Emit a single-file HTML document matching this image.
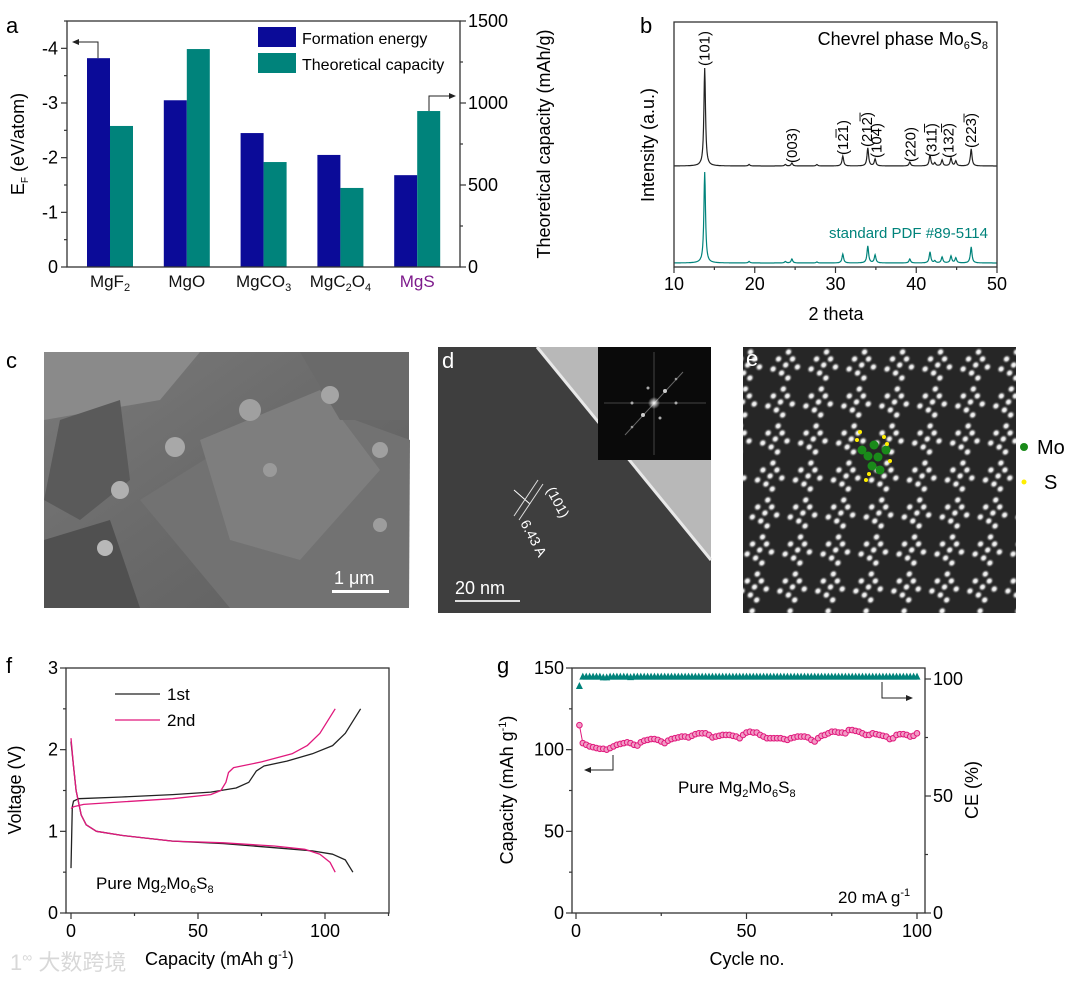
<!DOCTYPE html>
<html><head><meta charset="utf-8">
<style>
html,body{margin:0;padding:0;background:#fff;}
svg{display:block;font-family:"Liberation Sans","Noto Sans CJK SC",sans-serif;}
</style></head>
<body>
<svg id="fig" width="1080" height="981" viewBox="0 0 1080 981" xmlns="http://www.w3.org/2000/svg">
<defs>
  <radialGradient id="blob" cx="50%" cy="50%" r="50%">
    <stop offset="0%" stop-color="#ffffff"/>
    <stop offset="40%" stop-color="#e0e0e0"/>
    <stop offset="100%" stop-color="#444" stop-opacity="0"/>
  </radialGradient>
  <radialGradient id="fftc" cx="50%" cy="50%" r="50%">
    <stop offset="0%" stop-color="#fff"/>
    <stop offset="100%" stop-color="#fff" stop-opacity="0"/>
  </radialGradient>
  <linearGradient id="semg" x1="0" y1="0" x2="1" y2="1">
    <stop offset="0%" stop-color="#7a7a7a"/>
    <stop offset="50%" stop-color="#6a6a6a"/>
    <stop offset="100%" stop-color="#5e5e5e"/>
  </linearGradient>
  <pattern id="lat" x="743" y="347" width="38" height="37" patternUnits="userSpaceOnUse" patternTransform="skewX(-8)">
    <rect width="38" height="37" fill="#262626"/>
    <circle cx="19" cy="5" r="4.5" fill="url(#blob)"/>
    <circle cx="10" cy="12" r="4.5" fill="url(#blob)"/>
    <circle cx="24" cy="12" r="4.5" fill="url(#blob)"/>
    <circle cx="18" cy="18" r="4.5" fill="url(#blob)"/>
    <circle cx="30" cy="20" r="4.5" fill="url(#blob)"/>
    <circle cx="6" cy="22" r="4.5" fill="url(#blob)"/>
    <circle cx="15" cy="26" r="4.5" fill="url(#blob)"/>
    <circle cx="22" cy="31" r="4.5" fill="url(#blob)"/>
  </pattern>
</defs>

<text x="6" y="33" font-size="22">a</text>
<text x="640" y="33" font-size="22">b</text>
<text x="6" y="368" font-size="22">c</text>
<text x="6" y="673" font-size="22">f</text>
<text x="497" y="673" font-size="22">g</text>

<g id="pa"></g>
<g id="pb"></g>

<g>
  <rect x="44" y="352" width="365" height="256" fill="url(#semg)"/>
  <polygon points="140,500 300,400 410,440 409,608 230,608" fill="#727272"/>
  <polygon points="200,440 320,390 380,470 300,560 230,540" fill="#7e7e7e"/>
  <polygon points="44,352 200,352 160,400 44,420" fill="#8a8a8a"/>
  <polygon points="60,420 120,400 130,480 80,520 44,500" fill="#5a5a5a"/>
  <polygon points="300,352 409,352 409,420 340,420" fill="#6a6a6a"/>
  <polygon points="44,540 110,520 140,608 44,608" fill="#505050"/>
  <circle cx="175" cy="447" r="10" fill="#a8a8a8"/>
  <circle cx="120" cy="490" r="9" fill="#b0b0b0"/>
  <circle cx="250" cy="410" r="11" fill="#a0a0a0"/>
  <circle cx="330" cy="395" r="9" fill="#a5a5a5"/>
  <circle cx="105" cy="548" r="8" fill="#b8b8b8"/>
  <circle cx="380" cy="450" r="8" fill="#a0a0a0"/>
  <circle cx="270" cy="470" r="7" fill="#9a9a9a"/>
  <circle cx="380" cy="525" r="7" fill="#9d9d9d"/>
  <rect x="332" y="590" width="57" height="3" fill="#fff"/>
  <text x="334" y="584" font-size="18" fill="#fff">1 μm</text>
</g>

<g>
  <rect x="438" y="347" width="273" height="266" fill="#3e3e3e"/>
  <polygon points="537,347 711,347 711,560" fill="#b8b8b8"/>
  <line x1="537" y1="347" x2="711" y2="560" stroke="#e8e8e8" stroke-width="3"/>
  <rect x="598" y="347" width="113" height="113" fill="#0a0a0a"/>
  <line x1="604" y1="403" x2="706" y2="403" stroke="#444" stroke-width="1"/>
  <line x1="654" y1="352" x2="654" y2="455" stroke="#444" stroke-width="1"/>
  <line x1="625" y1="435" x2="683" y2="372" stroke="#666" stroke-width="1"/>
  <circle cx="654" cy="403" r="6" fill="url(#fftc)"/>
  <circle cx="643" cy="415" r="2" fill="#ccc"/><circle cx="665" cy="391" r="2" fill="#ccc"/>
  <circle cx="632" cy="403" r="1.5" fill="#aaa"/><circle cx="676" cy="403" r="1.5" fill="#aaa"/>
  <circle cx="660" cy="418" r="1.5" fill="#aaa"/><circle cx="648" cy="388" r="1.5" fill="#aaa"/>
  <circle cx="632" cy="427" r="1.3" fill="#999"/><circle cx="676" cy="379" r="1.3" fill="#999"/>
  <line x1="514" y1="490" x2="530" y2="504" stroke="#fff" stroke-width="1"/>
  <line x1="519" y1="520" x2="543" y2="484" stroke="#ddd" stroke-width="1"/>
  <line x1="514" y1="516" x2="538" y2="480" stroke="#ddd" stroke-width="1"/>
  <text font-size="14" fill="#fff" transform="translate(546,490) rotate(62)">(101)</text>
  <text font-size="14" fill="#fff" transform="translate(520,523) rotate(62)">6.43 A</text>
  <rect x="455" y="600" width="65" height="2" fill="#ddd"/>
  <text x="455" y="594" font-size="18" fill="#fff">20 nm</text>
  <text x="442" y="368" font-size="22" fill="#fff">d</text>
</g>

<g>
  <rect x="743" y="347" width="273" height="266" fill="url(#lat)"/>
  <g>
    <circle cx="874" cy="445" r="4.5" fill="#1a8a1a"/><circle cx="868" cy="456" r="4.5" fill="#1a8a1a"/>
    <circle cx="878" cy="457" r="4.5" fill="#1a8a1a"/><circle cx="886" cy="450" r="4.5" fill="#1a8a1a"/>
    <circle cx="872" cy="466" r="4.5" fill="#1a8a1a"/><circle cx="880" cy="470" r="4.5" fill="#1a8a1a"/>
    <circle cx="862" cy="450" r="4.5" fill="#1a8a1a"/>
    <circle cx="857" cy="440" r="2" fill="#ffee00"/><circle cx="860" cy="432" r="2" fill="#ffee00"/>
    <circle cx="884" cy="437" r="2" fill="#ffee00"/><circle cx="887" cy="444" r="2" fill="#ffee00"/>
    <circle cx="890" cy="461" r="2" fill="#ffee00"/><circle cx="869" cy="474" r="2" fill="#ffee00"/>
    <circle cx="866" cy="480" r="2" fill="#ffee00"/>
  </g>
  <text x="746" y="366" font-size="22" fill="#fff">e</text>
  <circle cx="1024" cy="447" r="4" fill="#1a8a1a"/>
  <text x="1037" y="454" font-size="20">Mo</text>
  <circle cx="1024" cy="482" r="2.5" fill="#ffee00"/>
  <text x="1044" y="489" font-size="20">S</text>
</g>

<g id="pf"></g>
<g id="pg"></g>

<text x="10" y="970" font-size="22" fill="#d8d8d8" font-family="Liberation Sans, Noto Sans CJK SC, sans-serif">1<tspan font-size="14" dy="-8">∞</tspan><tspan dy="8"> 大数跨境</tspan></text>

<script>
const aCategories = ["MgF", "MgO", "MgCO", "MgC", "MgS"];
const aFormationEnergy = [-3.82, -3.05, -2.45, -2.05, -1.68];
const aCapacity = [860, 1329, 640, 482, 951];
const aLeftTicks = [0, -1, -2, -3, -4];
const aRightTicks = [0, 500, 1000, 1500];
const bPeakPos = [13.8, 19.3, 23.8, 24.6, 27.7, 30.9, 34.0, 34.9, 39.2, 41.7, 42.3, 43.2, 44.3, 44.9, 46.8];
const bPeakHeights = [98, 1.5, 1.5, 3, 1.5, 10, 18, 7, 4, 11, 3, 6, 8, 5, 17];
const bRefHeights = [91, 1.5, 1.5, 4, 1, 9, 17, 8, 4, 11, 2, 6, 7, 5, 16];
const bTicks = [10, 20, 30, 40, 50];
const bPlaneLabels = ["(101)", "(003)", "(12\u03051)", "(212\u0305)", "(104)", "(220)", "(311\u0305)", "(132\u0305)", "(223\u0305)"];
const bPlanePos = [13.8, 24.6, 30.9, 33.9, 35.1, 39.3, 41.9, 44.0, 46.8];
const bPlaneBottom = [66, 163, 155, 147, 158, 162, 157, 158, 148];
const f1ChargeCap = [0, 0.5, 1, 3, 20, 40, 55, 65, 70, 73, 76, 85, 95, 103, 108, 114];
const f1ChargeV = [0.55, 1.3, 1.37, 1.4, 1.42, 1.45, 1.48, 1.53, 1.6, 1.74, 1.8, 1.86, 1.95, 2.05, 2.2, 2.5];
const f1DischCap = [0, 1, 2, 4, 6, 10, 20, 40, 60, 80, 95, 103, 108, 111];
const f1DischV = [2.1, 1.8, 1.5, 1.2, 1.08, 1.0, 0.95, 0.88, 0.85, 0.8, 0.76, 0.72, 0.65, 0.5];
const f2ChargeCap = [0, 1, 5, 20, 40, 55, 59, 61, 62, 64, 75, 87, 93, 98, 104];
const f2ChargeV = [1.28, 1.3, 1.33, 1.36, 1.4, 1.45, 1.5, 1.6, 1.72, 1.78, 1.85, 1.95, 2.05, 2.2, 2.5];
const f2DischCap = [0, 1, 2, 4, 6, 10, 20, 40, 60, 80, 92, 98, 102, 104];
const f2DischV = [2.14, 1.8, 1.5, 1.2, 1.08, 1.0, 0.95, 0.88, 0.86, 0.82, 0.78, 0.72, 0.62, 0.5];
const fXTicks = [0, 50, 100];
const fYTicks = [0, 1, 2, 3];
const gCapacity = [115,104,103,102,101.5,101,100.5,100.5,100,101,102,103,103.5,104,104.5,104,103,102.5,104.5,105.5,106,106.5,106.5,106,105,104,105.5,106.5,107,107.5,108,108,107.5,108.5,109.5,110,110,110,109,107.5,108,108.5,109,109,109,108.5,108,107,109,110.5,111,110.5,110.5,109,108,107,107,107,107,107,106.5,106,107,107.5,108,108,108,107.5,106,105,107,108.5,109,110,111,111,110.5,110.5,110,112,112,111.5,111,110,109,109,110,109.5,109,108.5,108,106.5,107,109,109.5,109.5,109,108,108.5,110];
const gCE = [97,101,101,101,101,101,101,100.7,100.7,101,101,101,101,101,101,100.8,101,101,101,101,101,101,101,101,101,101,101,101,101,101,101,101,101,101,101,101,101,101,101,101,101,101,101,101,101,101,101,101,101,101,101,101,101,101,101,101,101,101,101,101,101,101,101,101,101,101,101,101,101,101,101,101,101,101,101,101,101,101,101,101,101,101,101,101,101,101,101,101,101,101,101,101,101,101,101,101,101,101,101,101];
const gXTicks = [0, 50, 100];
const gLeftTicks = [0, 50, 100, 150];
const gRightTicks = [0, 50, 100];

const NS = "http://www.w3.org/2000/svg";
function mk(parent, tag, attrs, txt) {
  const e = document.createElementNS(NS, tag);
  for (const k in attrs) e.setAttribute(k, attrs[k]);
  if (txt !== undefined) e.textContent = txt;
  parent.appendChild(e);
  return e;
}
function box(g, x0, y0, x1, y1, name) {
  const r = mk(g, "rect", {x: x0, y: y0, width: x1 - x0, height: y1 - y0, fill: "none", stroke: "#333", "stroke-width": 1.3});
  
  
}
function tickLine(g, x1, y1, x2, y2) {
  mk(g, "line", {x1: x1, y1: y1, x2: x2, y2: y2, stroke: "#333", "stroke-width": 1.2});
}
function pathFrom(xs, ys, fx, fy) {
  let d = "";
  for (let i = 0; i < xs.length; i++) d += (i ? "L" : "M") + fx(xs[i]).toFixed(1) + "," + fy(ys[i]).toFixed(1);
  return d;
}

(function () {
  const g = document.getElementById("pa");
  const X0 = 67, X1 = 460, YT = 21, YB = 267;
  const yE = v => YB + v * (YB - YT) / 4.5;
  const yC = c => YB - c / 1500 * (YB - YT);
  const cx = i => 110 + i * 76.8;
  const bw = 23;
  aFormationEnergy.forEach((v, i) => {
    const r = mk(g, "rect", {x: cx(i) - bw, y: yE(v), width: bw, height: YB - yE(v), fill: "#0b0b98"});
    
    
  });
  aCapacity.forEach((c, i) => {
    const r = mk(g, "rect", {x: cx(i), y: yC(c), width: bw, height: YB - yC(c), fill: "#00837b"});
    
    
  });
  box(g, X0, YT, X1, YB, 'plot-area-a');
  aLeftTicks.forEach(t => {
    tickLine(g, X0 - 6, yE(t), X0, yE(t));
    const tx = mk(g, "text", {x: X0 - 9, y: yE(t) + 6, "font-size": 18, "text-anchor": "end"}, String(t));
    
    
  });
  for (let v = -0.5; v >= -4.5; v -= 1) tickLine(g, X0 - 3, yE(v), X0, yE(v));
  aRightTicks.forEach(t => {
    tickLine(g, X1, yC(t), X1 + 6, yC(t));
    const tx = mk(g, "text", {x: X1 + 8, y: yC(t) + 6, "font-size": 18}, String(t));
    
    
  });
  for (let v = 250; v < 1500; v += 500) tickLine(g, X1, yC(v), X1 + 3, yC(v));
  const subs = ["2", "", "3", "2", ""];
  aCategories.forEach((c, i) => {
    const t = mk(g, "text", {x: cx(i), y: 287, "font-size": 17, "text-anchor": "middle", fill: i === 4 ? "#7d1a8c" : "#111"});
    
    
    if (i === 3) {
      mk(t, "tspan", {}, "MgC");
      mk(t, "tspan", {"font-size": 11, dy: 4}, "2");
      mk(t, "tspan", {dy: -4}, "O");
      mk(t, "tspan", {"font-size": 11, dy: 4}, "4");
    } else {
      mk(t, "tspan", {}, c);
      if (subs[i]) mk(t, "tspan", {"font-size": 11, dy: 4}, subs[i]);
    }
  });
  const l1 = mk(g, "rect", {x: 258, y: 27, width: 38, height: 20, fill: "#0b0b98"});
  
  
  const t1 = mk(g, "text", {x: 302, y: 44, "font-size": 16}, "Formation energy");
  
  
  const l2 = mk(g, "rect", {x: 258, y: 53, width: 38, height: 20, fill: "#00837b"});
  
  
  const t2 = mk(g, "text", {x: 302, y: 70, "font-size": 16}, "Theoretical capacity");
  
  
  const ar1 = mk(g, "path", {d: "M98," + yE(aFormationEnergy[0]) + " L98,42 L74,42", fill: "none", stroke: "#222", "stroke-width": 1});
  
  
  mk(g, "path", {d: "M72,42 L79,39 L79,45 Z", fill: "#222"});
  const ar2 = mk(g, "path", {d: "M429," + yC(aCapacity[4]) + " L429,96 L452,96", fill: "none", stroke: "#222", "stroke-width": 1});
  
  
  mk(g, "path", {d: "M456,96 L449,93 L449,99 Z", fill: "#222"});
  const yl = mk(g, "text", {transform: "translate(24,144) rotate(-90)", "font-size": 18, "text-anchor": "middle"});
  
  
  mk(yl, "tspan", {}, "E");
  mk(yl, "tspan", {"font-size": 10, dy: 4}, "F");
  mk(yl, "tspan", {dy: -4}, " (eV/atom)");
  const yr = mk(g, "text", {transform: "translate(550,144) rotate(-90)", "font-size": 18, "text-anchor": "middle"}, "Theoretical capacity  (mAh/g)");
  
  
})();

(function () {
  const g = document.getElementById("pb");
  const X0 = 674, X1 = 997, YT = 22, YB = 267;
  const xB = t => X0 + (t - 10) * (X1 - X0) / 40;
  const prof = (h, base) => {
    let d = "";
    for (let t = 10; t <= 50.001; t += 0.05) {
      let s = 0;
      bPeakPos.forEach((p, i) => { const w = 0.12; s += h[i] / (1 + ((t - p) / w) ** 2); });
      d += (d ? "L" : "M") + xB(t).toFixed(1) + "," + (base - s).toFixed(1);
    }
    return d;
  };
  const p1 = mk(g, "path", {d: prof(bPeakHeights, 166), fill: "none", stroke: "#222", "stroke-width": 1.2});
  
  
  const p2 = mk(g, "path", {d: prof(bRefHeights, 263), fill: "none", stroke: "#00837b", "stroke-width": 1.2});
  
  
  box(g, X0, YT, X1, YB, 'plot-area-b');
  bTicks.forEach(t => {
    tickLine(g, xB(t), YB, xB(t), YB + 6);
    const tx = mk(g, "text", {x: xB(t), y: 290, "font-size": 18, "text-anchor": "middle"}, String(t));
    
    
  });
  for (let t = 15; t < 50; t += 10) tickLine(g, xB(t), YB, xB(t), YB + 3);
  bPlaneLabels.forEach((l, i) => {
    const tx = mk(g, "text", {transform: "translate(" + (xB(bPlanePos[i]) + 5) + "," + bPlaneBottom[i] + ") rotate(-90)", "font-size": 15}, l);
    
    
  });
  const ti = mk(g, "text", {x: 988, y: 45, "font-size": 18, "text-anchor": "end"});
  
  
  mk(ti, "tspan", {}, "Chevrel phase Mo");
  mk(ti, "tspan", {"font-size": 11, dy: 4}, "6");
  mk(ti, "tspan", {dy: -4}, "S");
  mk(ti, "tspan", {"font-size": 11, dy: 4}, "8");
  const rf = mk(g, "text", {x: 988, y: 238, "font-size": 15, "text-anchor": "end", fill: "#00837b"}, "standard PDF #89-5114");
  
  
  const xl = mk(g, "text", {x: 836, y: 320, "font-size": 18, "text-anchor": "middle"}, "2 theta");
  
  
  const yl = mk(g, "text", {transform: "translate(654,145) rotate(-90)", "font-size": 18, "text-anchor": "middle"}, "Intensity (a.u.)");
  
  
})();

(function () {
  const g = document.getElementById("pf");
  const X0 = 66, X1 = 389, YT = 668, YB = 913;
  const xF = c => 71 + c * 2.54;
  const yF = v => YB - v * (YB - YT) / 3;
  const series = [
    [f1ChargeCap, f1ChargeV, "#222", 'first-cycle-charge-curve'],
    [f1DischCap, f1DischV, "#222", 'first-cycle-discharge-curve'],
    [f2ChargeCap, f2ChargeV, "#e0187c", 'second-cycle-charge-curve'],
    [f2DischCap, f2DischV, "#e0187c", 'second-cycle-discharge-curve']
  ];
  series.forEach(s => {
    const p = mk(g, "path", {d: pathFrom(s[0], s[1], xF, yF), fill: "none", stroke: s[2], "stroke-width": 1.3, "stroke-linejoin": "round"});
    
    
  });
  box(g, X0, YT, X1, YB, 'plot-area-f');
  fXTicks.forEach(t => {
    tickLine(g, xF(t), YB, xF(t), YB + 6);
    const tx = mk(g, "text", {x: xF(t), y: 937, "font-size": 18, "text-anchor": "middle"}, String(t));
    
    
  });
  [25, 75, 125].forEach(t => tickLine(g, xF(t), YB, xF(t), YB + 3));
  fYTicks.forEach(t => {
    tickLine(g, X0 - 6, yF(t), X0, yF(t));
    const tx = mk(g, "text", {x: X0 - 8, y: yF(t) + 6, "font-size": 18, "text-anchor": "end"}, String(t));
    
    
  });
  [0.5, 1.5, 2.5].forEach(t => tickLine(g, X0 - 3, yF(t), X0, yF(t)));
  const lg1 = mk(g, "line", {x1: 115, y1: 694, x2: 160, y2: 694, stroke: "#222", "stroke-width": 1.3});
  
  
  const lt1 = mk(g, "text", {x: 167, y: 700, "font-size": 17}, "1st");
  
  
  const lg2 = mk(g, "line", {x1: 115, y1: 720, x2: 160, y2: 720, stroke: "#e0187c", "stroke-width": 1.3});
  
  
  const lt2 = mk(g, "text", {x: 167, y: 726, "font-size": 17}, "2nd");
  
  
  const an = mk(g, "text", {x: 96, y: 889, "font-size": 17});
  
  
  mk(an, "tspan", {}, "Pure Mg"); mk(an, "tspan", {"font-size": 11, dy: 4}, "2");
  mk(an, "tspan", {dy: -4}, "Mo"); mk(an, "tspan", {"font-size": 11, dy: 4}, "6");
  mk(an, "tspan", {dy: -4}, "S"); mk(an, "tspan", {"font-size": 11, dy: 4}, "8");
  const xl = mk(g, "text", {x: 145, y: 965, "font-size": 18});
  
  
  mk(xl, "tspan", {}, "Capacity (mAh g"); mk(xl, "tspan", {"font-size": 11, dy: -7}, "-1"); mk(xl, "tspan", {dy: 7}, ")");
  const yl = mk(g, "text", {transform: "translate(21,790) rotate(-90)", "font-size": 18, "text-anchor": "middle"}, "Voltage (V)");
  
  
})();

(function () {
  const g = document.getElementById("pg");
  const X0 = 572, X1 = 925, YT = 668, YB = 913;
  const xG = n => 576 + n * 3.41;
  const yC = c => YB - c * (YB - YT) / 150;
  const yE = e => YB - e * 2.34;
  const cl = mk(g, "path", {d: pathFrom(gCapacity.map((_, i) => i + 1), gCapacity, xG, yC), fill: "none", stroke: "#e0187c", "stroke-width": 1});
  
  
  gCapacity.forEach((c, i) => {
    const m = mk(g, "circle", {cx: xG(i + 1), cy: yC(c), r: 2.8, fill: "#f29cc6", stroke: "#e0187c", "stroke-width": 1});
    
    
  });
  gCE.forEach((e, i) => {
    const x = xG(i + 1), y = yE(e);
    const m = mk(g, "path", {d: "M" + x + "," + (y - 4) + " L" + (x + 3.5) + "," + (y + 3) + " L" + (x - 3.5) + "," + (y + 3) + " Z", fill: "#00837b"});
    
    
  });
  box(g, X0, YT, X1, YB, 'plot-area-g');
  gXTicks.forEach(t => {
    tickLine(g, xG(t), YB, xG(t), YB + 6);
    const tx = mk(g, "text", {x: xG(t), y: 937, "font-size": 18, "text-anchor": "middle"}, String(t));
    
    
  });
  [25, 75].forEach(t => tickLine(g, xG(t), YB, xG(t), YB + 3));
  gLeftTicks.forEach(t => {
    tickLine(g, X0 - 6, yC(t), X0, yC(t));
    const tx = mk(g, "text", {x: X0 - 8, y: yC(t) + 6, "font-size": 18, "text-anchor": "end"}, String(t));
    
    
  });
  [25, 75, 125].forEach(t => tickLine(g, X0 - 3, yC(t), X0, yC(t)));
  gRightTicks.forEach(t => {
    tickLine(g, X1, yE(t), X1 + 6, yE(t));
    const tx = mk(g, "text", {x: X1 + 8, y: yE(t) + 6, "font-size": 18}, String(t));
    
    
  });
  [25, 75].forEach(t => tickLine(g, X1, yE(t), X1 + 3, yE(t)));
  const a1 = mk(g, "path", {d: "M613,755 L613,770 L588,770", fill: "none", stroke: "#222", "stroke-width": 1});
  
  
  mk(g, "path", {d: "M584,770 L591,767 L591,773 Z", fill: "#222"});
  const a2 = mk(g, "path", {d: "M882,682 L882,698 L909,698", fill: "none", stroke: "#222", "stroke-width": 1});
  
  
  mk(g, "path", {d: "M913,698 L906,695 L906,701 Z", fill: "#222"});
  const an = mk(g, "text", {x: 678, y: 793, "font-size": 17});
  
  
  mk(an, "tspan", {}, "Pure Mg"); mk(an, "tspan", {"font-size": 11, dy: 4}, "2");
  mk(an, "tspan", {dy: -4}, "Mo"); mk(an, "tspan", {"font-size": 11, dy: 4}, "6");
  mk(an, "tspan", {dy: -4}, "S"); mk(an, "tspan", {"font-size": 11, dy: 4}, "8");
  const cr = mk(g, "text", {x: 838, y: 903, "font-size": 17});
  
  
  mk(cr, "tspan", {}, "20 mA g"); mk(cr, "tspan", {"font-size": 11, dy: -7}, "-1");
  const xl = mk(g, "text", {x: 747, y: 965, "font-size": 18, "text-anchor": "middle"}, "Cycle no.");
  
  
  const yl = mk(g, "text", {transform: "translate(513,790) rotate(-90)", "font-size": 18, "text-anchor": "middle"});
  
  
  mk(yl, "tspan", {}, "Capacity (mAh g"); mk(yl, "tspan", {"font-size": 11, dy: -7}, "-1"); mk(yl, "tspan", {dy: 7}, ")");
  const yr = mk(g, "text", {transform: "translate(978,790) rotate(-90)", "font-size": 18, "text-anchor": "middle"}, "CE (%)");
  
  
})();
</script>
</svg>
</body></html>
